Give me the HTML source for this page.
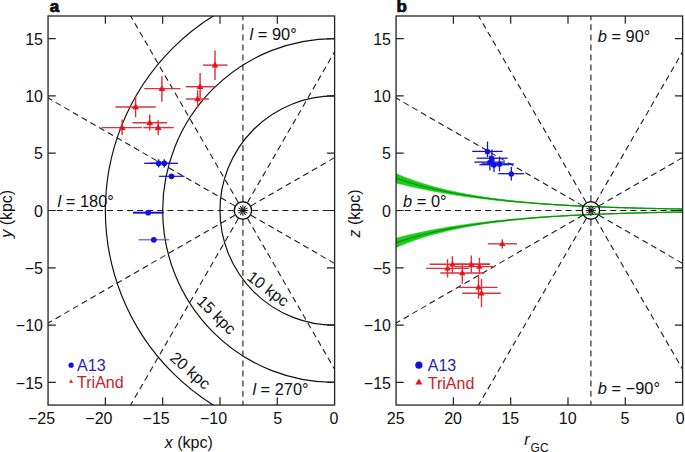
<!DOCTYPE html><html><head><meta charset="utf-8"><style>html,body{margin:0;padding:0;background:#fff;}svg{display:block;}text{font-family:"Liberation Sans",sans-serif;}</style></head><body><svg width="685" height="452" viewBox="0 0 685 452"><defs><clipPath id="ca"><rect x="48.045000000000016" y="16.0" width="286.575" height="389.05"/></clipPath><clipPath id="cb"><rect x="396.045" y="16.0" width="286.575" height="389.05"/></clipPath></defs><g clip-path="url(#ca)" fill="none"><circle cx="334.62" cy="210.52" r="114.63" stroke="#111" stroke-width="1.2"/><circle cx="334.62" cy="210.52" r="171.94" stroke="#111" stroke-width="1.2"/><circle cx="334.62" cy="210.52" r="229.26" stroke="#111" stroke-width="1.2"/><line x1="242.92" y1="210.52" x2="842.92" y2="210.52" stroke="#1a1a1a" stroke-width="1.1" stroke-dasharray="6 4.05" stroke-dashoffset="0.75"/><line x1="242.92" y1="210.52" x2="762.53" y2="-89.48" stroke="#1a1a1a" stroke-width="1.1" stroke-dasharray="6 4.05" stroke-dashoffset="0.75"/><line x1="242.92" y1="210.52" x2="542.92" y2="-309.10" stroke="#1a1a1a" stroke-width="1.1" stroke-dasharray="6 4.05" stroke-dashoffset="0.75"/><line x1="242.92" y1="210.52" x2="242.92" y2="-389.48" stroke="#1a1a1a" stroke-width="1.1" stroke-dasharray="6 4.05" stroke-dashoffset="0.75"/><line x1="242.92" y1="210.52" x2="-57.08" y2="-309.10" stroke="#1a1a1a" stroke-width="1.1" stroke-dasharray="6 4.05" stroke-dashoffset="0.75"/><line x1="242.92" y1="210.52" x2="-276.70" y2="-89.48" stroke="#1a1a1a" stroke-width="1.1" stroke-dasharray="6 4.05" stroke-dashoffset="0.75"/><line x1="242.92" y1="210.52" x2="-357.08" y2="210.52" stroke="#1a1a1a" stroke-width="1.1" stroke-dasharray="6 4.05" stroke-dashoffset="0.75"/><line x1="242.92" y1="210.52" x2="-276.70" y2="510.52" stroke="#1a1a1a" stroke-width="1.1" stroke-dasharray="6 4.05" stroke-dashoffset="0.75"/><line x1="242.92" y1="210.52" x2="-57.08" y2="730.14" stroke="#1a1a1a" stroke-width="1.1" stroke-dasharray="6 4.05" stroke-dashoffset="0.75"/><line x1="242.92" y1="210.52" x2="242.92" y2="810.52" stroke="#1a1a1a" stroke-width="1.1" stroke-dasharray="6 4.05" stroke-dashoffset="0.75"/><line x1="242.92" y1="210.52" x2="542.92" y2="730.14" stroke="#1a1a1a" stroke-width="1.1" stroke-dasharray="6 4.05" stroke-dashoffset="0.75"/><line x1="242.92" y1="210.52" x2="762.53" y2="510.52" stroke="#1a1a1a" stroke-width="1.1" stroke-dasharray="6 4.05" stroke-dashoffset="0.75"/><circle cx="242.92" cy="210.52" r="8.7" stroke="#111" stroke-width="1.4"/></g><g clip-path="url(#cb)" fill="none"><path d="M390.31,171.04 L393.18,172.35 L396.05,173.61 L398.91,174.82 L401.78,176.00 L404.64,177.13 L407.51,178.23 L410.37,179.29 L413.24,180.31 L416.11,181.30 L418.97,182.25 L421.84,183.17 L424.70,184.06 L427.57,184.92 L430.43,185.75 L433.30,186.55 L436.17,187.33 L439.03,188.08 L441.90,188.80 L444.76,189.50 L447.63,190.18 L450.49,190.83 L453.36,191.47 L456.23,192.08 L459.09,192.67 L461.96,193.24 L464.82,193.79 L467.69,194.33 L470.55,194.84 L473.42,195.34 L476.29,195.83 L479.15,196.29 L482.02,196.75 L484.88,197.18 L487.75,197.61 L490.61,198.02 L493.48,198.41 L496.35,198.80 L499.21,199.17 L502.08,199.52 L504.94,199.87 L507.81,200.21 L510.68,200.53 L513.54,200.85 L516.41,201.15 L519.27,201.44 L522.14,201.73 L525.00,202.01 L527.87,202.27 L530.74,202.53 L533.60,202.78 L536.47,203.02 L539.33,203.26 L542.20,203.48 L545.06,203.70 L547.93,203.92 L550.80,204.12 L553.66,204.32 L556.53,204.52 L559.39,204.70 L562.26,204.88 L565.12,205.06 L567.99,205.23 L570.86,205.39 L573.72,205.55 L576.59,205.71 L579.45,205.86 L582.32,206.00 L585.18,206.14 L588.05,206.28 L590.92,206.41 L593.78,206.53 L596.65,206.66 L599.51,206.78 L602.38,206.89 L605.24,207.00 L608.11,207.11 L610.98,207.22 L613.84,207.32 L616.71,207.42 L619.57,207.51 L622.44,207.61 L625.31,207.70 L628.17,207.78 L631.04,207.87 L633.90,207.95 L636.77,208.03 L639.63,208.11 L642.50,208.18 L645.37,208.25 L648.23,208.32 L651.10,208.39 L653.96,208.45 L656.83,208.52 L659.69,208.58 L662.56,208.64 L665.43,208.70 L668.29,208.75 L671.16,208.81 L674.02,208.86 L676.89,208.91 L679.75,208.96 L682.62,209.01 L685.49,209.05 L688.35,209.10 L688.35,209.14 L685.49,209.10 L682.62,209.05 L679.75,209.01 L676.89,208.96 L674.02,208.91 L671.16,208.86 L668.29,208.81 L665.43,208.76 L662.56,208.71 L659.69,208.65 L656.83,208.59 L653.96,208.53 L651.10,208.47 L648.23,208.41 L645.37,208.34 L642.50,208.28 L639.63,208.21 L636.77,208.14 L633.90,208.06 L631.04,207.99 L628.17,207.91 L625.31,207.83 L622.44,207.75 L619.57,207.66 L616.71,207.58 L613.84,207.49 L610.98,207.39 L608.11,207.30 L605.24,207.20 L602.38,207.10 L599.51,206.99 L596.65,206.89 L593.78,206.77 L590.92,206.66 L588.05,206.54 L585.18,206.42 L582.32,206.30 L579.45,206.17 L576.59,206.04 L573.72,205.90 L570.86,205.76 L567.99,205.62 L565.12,205.47 L562.26,205.31 L559.39,205.16 L556.53,204.99 L553.66,204.83 L550.80,204.65 L547.93,204.48 L545.06,204.30 L542.20,204.11 L539.33,203.91 L536.47,203.72 L533.60,203.51 L530.74,203.30 L527.87,203.08 L525.00,202.86 L522.14,202.63 L519.27,202.40 L516.41,202.15 L513.54,201.90 L510.68,201.65 L507.81,201.38 L504.94,201.11 L502.08,200.83 L499.21,200.55 L496.35,200.25 L493.48,199.95 L490.61,199.63 L487.75,199.31 L484.88,198.98 L482.02,198.64 L479.15,198.29 L476.29,197.94 L473.42,197.57 L470.55,197.19 L467.69,196.80 L464.82,196.40 L461.96,195.99 L459.09,195.57 L456.23,195.13 L453.36,194.69 L450.49,194.23 L447.63,193.76 L444.76,193.28 L441.90,192.79 L439.03,192.28 L436.17,191.76 L433.30,191.22 L430.43,190.67 L427.57,190.11 L424.70,189.53 L421.84,188.94 L418.97,188.34 L416.11,187.71 L413.24,187.08 L410.37,186.42 L407.51,185.75 L404.64,185.07 L401.78,184.36 L398.91,183.64 L396.05,182.91 L393.18,182.15 L390.31,181.38Z" fill="#1ccc1c" stroke="#1ccc1c" stroke-width="0.6"/><path d="M390.31,176.21 L393.18,177.25 L396.05,178.26 L398.91,179.23 L401.78,180.18 L404.64,181.10 L407.51,181.99 L410.37,182.86 L413.24,183.69 L416.11,184.51 L418.97,185.29 L421.84,186.06 L424.70,186.80 L427.57,187.52 L430.43,188.21 L433.30,188.89 L436.17,189.54 L439.03,190.18 L441.90,190.79 L444.76,191.39 L447.63,191.97 L450.49,192.53 L453.36,193.08 L456.23,193.61 L459.09,194.12 L461.96,194.61 L464.82,195.10 L467.69,195.56 L470.55,196.02 L473.42,196.46 L476.29,196.88 L479.15,197.29 L482.02,197.69 L484.88,198.08 L487.75,198.46 L490.61,198.83 L493.48,199.18 L496.35,199.52 L499.21,199.86 L502.08,200.18 L504.94,200.49 L507.81,200.80 L510.68,201.09 L513.54,201.38 L516.41,201.65 L519.27,201.92 L522.14,202.18 L525.00,202.43 L527.87,202.68 L530.74,202.92 L533.60,203.15 L536.47,203.37 L539.33,203.59 L542.20,203.80 L545.06,204.00 L547.93,204.20 L550.80,204.39 L553.66,204.57 L556.53,204.75 L559.39,204.93 L562.26,205.10 L565.12,205.26 L567.99,205.42 L570.86,205.58 L573.72,205.73 L576.59,205.87 L579.45,206.01 L582.32,206.15 L585.18,206.28 L588.05,206.41 L590.92,206.53 L593.78,206.65 L596.65,206.77 L599.51,206.88 L602.38,206.99 L605.24,207.10 L608.11,207.21 L610.98,207.31 L613.84,207.40 L616.71,207.50 L619.57,207.59 L622.44,207.68 L625.31,207.76 L628.17,207.85 L631.04,207.93 L633.90,208.01 L636.77,208.08 L639.63,208.16 L642.50,208.23 L645.37,208.30 L648.23,208.36 L651.10,208.43 L653.96,208.49 L656.83,208.55 L659.69,208.61 L662.56,208.67 L665.43,208.73 L668.29,208.78 L671.16,208.83 L674.02,208.89 L676.89,208.94 L679.75,208.98 L682.62,209.03 L685.49,209.07 L688.35,209.12" stroke="#0c940c" stroke-width="1.3"/><path d="M390.31,250.00 L393.18,248.69 L396.05,247.43 L398.91,246.22 L401.78,245.04 L404.64,243.91 L407.51,242.81 L410.37,241.75 L413.24,240.73 L416.11,239.74 L418.97,238.79 L421.84,237.87 L424.70,236.98 L427.57,236.12 L430.43,235.29 L433.30,234.49 L436.17,233.71 L439.03,232.96 L441.90,232.24 L444.76,231.54 L447.63,230.86 L450.49,230.21 L453.36,229.57 L456.23,228.96 L459.09,228.37 L461.96,227.80 L464.82,227.25 L467.69,226.71 L470.55,226.20 L473.42,225.70 L476.29,225.21 L479.15,224.75 L482.02,224.29 L484.88,223.86 L487.75,223.43 L490.61,223.02 L493.48,222.63 L496.35,222.24 L499.21,221.87 L502.08,221.52 L504.94,221.17 L507.81,220.83 L510.68,220.51 L513.54,220.19 L516.41,219.89 L519.27,219.60 L522.14,219.31 L525.00,219.03 L527.87,218.77 L530.74,218.51 L533.60,218.26 L536.47,218.02 L539.33,217.78 L542.20,217.56 L545.06,217.34 L547.93,217.12 L550.80,216.92 L553.66,216.72 L556.53,216.52 L559.39,216.34 L562.26,216.16 L565.12,215.98 L567.99,215.81 L570.86,215.65 L573.72,215.49 L576.59,215.33 L579.45,215.18 L582.32,215.04 L585.18,214.90 L588.05,214.76 L590.92,214.63 L593.78,214.51 L596.65,214.38 L599.51,214.26 L602.38,214.15 L605.24,214.04 L608.11,213.93 L610.98,213.82 L613.84,213.72 L616.71,213.62 L619.57,213.53 L622.44,213.43 L625.31,213.34 L628.17,213.26 L631.04,213.17 L633.90,213.09 L636.77,213.01 L639.63,212.93 L642.50,212.86 L645.37,212.79 L648.23,212.72 L651.10,212.65 L653.96,212.59 L656.83,212.52 L659.69,212.46 L662.56,212.40 L665.43,212.34 L668.29,212.29 L671.16,212.23 L674.02,212.18 L676.89,212.13 L679.75,212.08 L682.62,212.03 L685.49,211.99 L688.35,211.94 L688.35,211.90 L685.49,211.94 L682.62,211.99 L679.75,212.03 L676.89,212.08 L674.02,212.13 L671.16,212.18 L668.29,212.23 L665.43,212.28 L662.56,212.33 L659.69,212.39 L656.83,212.45 L653.96,212.51 L651.10,212.57 L648.23,212.63 L645.37,212.70 L642.50,212.76 L639.63,212.83 L636.77,212.90 L633.90,212.98 L631.04,213.05 L628.17,213.13 L625.31,213.21 L622.44,213.29 L619.57,213.38 L616.71,213.46 L613.84,213.55 L610.98,213.65 L608.11,213.74 L605.24,213.84 L602.38,213.94 L599.51,214.05 L596.65,214.15 L593.78,214.27 L590.92,214.38 L588.05,214.50 L585.18,214.62 L582.32,214.74 L579.45,214.87 L576.59,215.00 L573.72,215.14 L570.86,215.28 L567.99,215.42 L565.12,215.57 L562.26,215.73 L559.39,215.88 L556.53,216.05 L553.66,216.21 L550.80,216.39 L547.93,216.56 L545.06,216.74 L542.20,216.93 L539.33,217.13 L536.47,217.32 L533.60,217.53 L530.74,217.74 L527.87,217.96 L525.00,218.18 L522.14,218.41 L519.27,218.64 L516.41,218.89 L513.54,219.14 L510.68,219.39 L507.81,219.66 L504.94,219.93 L502.08,220.21 L499.21,220.49 L496.35,220.79 L493.48,221.09 L490.61,221.41 L487.75,221.73 L484.88,222.06 L482.02,222.40 L479.15,222.75 L476.29,223.10 L473.42,223.47 L470.55,223.85 L467.69,224.24 L464.82,224.64 L461.96,225.05 L459.09,225.47 L456.23,225.91 L453.36,226.35 L450.49,226.81 L447.63,227.28 L444.76,227.76 L441.90,228.25 L439.03,228.76 L436.17,229.28 L433.30,229.82 L430.43,230.37 L427.57,230.93 L424.70,231.51 L421.84,232.10 L418.97,232.70 L416.11,233.33 L413.24,233.96 L410.37,234.62 L407.51,235.29 L404.64,235.97 L401.78,236.68 L398.91,237.40 L396.05,238.13 L393.18,238.89 L390.31,239.66Z" fill="#1ccc1c" stroke="#1ccc1c" stroke-width="0.6"/><path d="M390.31,244.83 L393.18,243.79 L396.05,242.78 L398.91,241.81 L401.78,240.86 L404.64,239.94 L407.51,239.05 L410.37,238.18 L413.24,237.35 L416.11,236.53 L418.97,235.75 L421.84,234.98 L424.70,234.24 L427.57,233.52 L430.43,232.83 L433.30,232.15 L436.17,231.50 L439.03,230.86 L441.90,230.25 L444.76,229.65 L447.63,229.07 L450.49,228.51 L453.36,227.96 L456.23,227.43 L459.09,226.92 L461.96,226.43 L464.82,225.94 L467.69,225.48 L470.55,225.02 L473.42,224.58 L476.29,224.16 L479.15,223.75 L482.02,223.35 L484.88,222.96 L487.75,222.58 L490.61,222.21 L493.48,221.86 L496.35,221.52 L499.21,221.18 L502.08,220.86 L504.94,220.55 L507.81,220.24 L510.68,219.95 L513.54,219.66 L516.41,219.39 L519.27,219.12 L522.14,218.86 L525.00,218.61 L527.87,218.36 L530.74,218.12 L533.60,217.89 L536.47,217.67 L539.33,217.45 L542.20,217.24 L545.06,217.04 L547.93,216.84 L550.80,216.65 L553.66,216.47 L556.53,216.29 L559.39,216.11 L562.26,215.94 L565.12,215.78 L567.99,215.62 L570.86,215.46 L573.72,215.31 L576.59,215.17 L579.45,215.03 L582.32,214.89 L585.18,214.76 L588.05,214.63 L590.92,214.51 L593.78,214.39 L596.65,214.27 L599.51,214.16 L602.38,214.05 L605.24,213.94 L608.11,213.83 L610.98,213.73 L613.84,213.64 L616.71,213.54 L619.57,213.45 L622.44,213.36 L625.31,213.28 L628.17,213.19 L631.04,213.11 L633.90,213.03 L636.77,212.96 L639.63,212.88 L642.50,212.81 L645.37,212.74 L648.23,212.68 L651.10,212.61 L653.96,212.55 L656.83,212.49 L659.69,212.43 L662.56,212.37 L665.43,212.31 L668.29,212.26 L671.16,212.21 L674.02,212.15 L676.89,212.10 L679.75,212.06 L682.62,212.01 L685.49,211.97 L688.35,211.92" stroke="#0c940c" stroke-width="1.3"/><line x1="590.92" y1="210.52" x2="1190.92" y2="210.52" stroke="#1a1a1a" stroke-width="1.1" stroke-dasharray="6 4.05" stroke-dashoffset="0.75"/><line x1="590.92" y1="210.52" x2="1110.53" y2="-89.48" stroke="#1a1a1a" stroke-width="1.1" stroke-dasharray="6 4.05" stroke-dashoffset="0.75"/><line x1="590.92" y1="210.52" x2="890.92" y2="-309.10" stroke="#1a1a1a" stroke-width="1.1" stroke-dasharray="6 4.05" stroke-dashoffset="0.75"/><line x1="590.92" y1="210.52" x2="590.92" y2="-389.48" stroke="#1a1a1a" stroke-width="1.1" stroke-dasharray="6 4.05" stroke-dashoffset="0.75"/><line x1="590.92" y1="210.52" x2="290.92" y2="-309.10" stroke="#1a1a1a" stroke-width="1.1" stroke-dasharray="6 4.05" stroke-dashoffset="0.75"/><line x1="590.92" y1="210.52" x2="71.30" y2="-89.48" stroke="#1a1a1a" stroke-width="1.1" stroke-dasharray="6 4.05" stroke-dashoffset="0.75"/><line x1="590.92" y1="210.52" x2="-9.08" y2="210.52" stroke="#1a1a1a" stroke-width="1.1" stroke-dasharray="6 4.05" stroke-dashoffset="0.75"/><line x1="590.92" y1="210.52" x2="71.30" y2="510.52" stroke="#1a1a1a" stroke-width="1.1" stroke-dasharray="6 4.05" stroke-dashoffset="0.75"/><line x1="590.92" y1="210.52" x2="290.92" y2="730.14" stroke="#1a1a1a" stroke-width="1.1" stroke-dasharray="6 4.05" stroke-dashoffset="0.75"/><line x1="590.92" y1="210.52" x2="590.92" y2="810.52" stroke="#1a1a1a" stroke-width="1.1" stroke-dasharray="6 4.05" stroke-dashoffset="0.75"/><line x1="590.92" y1="210.52" x2="890.92" y2="730.14" stroke="#1a1a1a" stroke-width="1.1" stroke-dasharray="6 4.05" stroke-dashoffset="0.75"/><line x1="590.92" y1="210.52" x2="1110.53" y2="510.52" stroke="#1a1a1a" stroke-width="1.1" stroke-dasharray="6 4.05" stroke-dashoffset="0.75"/><circle cx="590.92" cy="210.52" r="8.7" stroke="#111" stroke-width="1.4"/></g><line x1="203.00" y1="65.10" x2="227.50" y2="65.10" stroke="#e0303c" stroke-width="1.45"/><line x1="215.00" y1="50.50" x2="215.00" y2="80.00" stroke="#e0303c" stroke-width="1.45"/><line x1="185.80" y1="86.70" x2="215.30" y2="86.70" stroke="#e0303c" stroke-width="1.45"/><line x1="200.10" y1="73.10" x2="200.10" y2="99.00" stroke="#e0303c" stroke-width="1.45"/><line x1="186.00" y1="99.00" x2="208.80" y2="99.00" stroke="#e0303c" stroke-width="1.45"/><line x1="197.60" y1="90.30" x2="197.60" y2="108.30" stroke="#e0303c" stroke-width="1.45"/><line x1="144.30" y1="88.60" x2="180.50" y2="88.60" stroke="#e0303c" stroke-width="1.45"/><line x1="161.90" y1="76.20" x2="161.90" y2="101.80" stroke="#e0303c" stroke-width="1.45"/><line x1="115.40" y1="106.90" x2="155.70" y2="106.90" stroke="#e0303c" stroke-width="1.45"/><line x1="135.60" y1="96.60" x2="135.60" y2="117.20" stroke="#e0303c" stroke-width="1.45"/><line x1="132.60" y1="122.70" x2="167.00" y2="122.70" stroke="#e0303c" stroke-width="1.45"/><line x1="149.70" y1="114.50" x2="149.70" y2="130.40" stroke="#e0303c" stroke-width="1.45"/><line x1="143.30" y1="127.60" x2="173.70" y2="127.60" stroke="#e0303c" stroke-width="1.45"/><line x1="158.20" y1="120.30" x2="158.20" y2="135.10" stroke="#e0303c" stroke-width="1.45"/><line x1="101.50" y1="127.60" x2="142.00" y2="127.60" stroke="#e0303c" stroke-width="1.45"/><line x1="122.10" y1="119.60" x2="122.10" y2="135.10" stroke="#e0303c" stroke-width="1.45"/><path d="M211.60,67.46 L218.40,67.46 L215.00,61.55Z" fill="#f0101a"/><path d="M196.70,89.06 L203.50,89.06 L200.10,83.15Z" fill="#f0101a"/><path d="M194.20,101.36 L201.00,101.36 L197.60,95.45Z" fill="#f0101a"/><path d="M158.50,90.96 L165.30,90.96 L161.90,85.05Z" fill="#f0101a"/><path d="M132.20,109.26 L139.00,109.26 L135.60,103.35Z" fill="#f0101a"/><path d="M146.30,125.06 L153.10,125.06 L149.70,119.15Z" fill="#f0101a"/><path d="M154.80,129.96 L161.60,129.96 L158.20,124.05Z" fill="#f0101a"/><path d="M118.70,129.96 L125.50,129.96 L122.10,124.05Z" fill="#f0101a"/><line x1="144.10" y1="163.30" x2="170.00" y2="163.30" stroke="#1010e0" stroke-width="1.3"/><line x1="158.60" y1="159.30" x2="158.60" y2="167.40" stroke="#1010e0" stroke-width="1.3"/><circle cx="158.60" cy="163.30" r="2.85" fill="#1010e0"/><line x1="150.00" y1="163.30" x2="178.00" y2="163.30" stroke="#1010e0" stroke-width="1.3"/><line x1="164.30" y1="159.30" x2="164.30" y2="167.40" stroke="#1010e0" stroke-width="1.3"/><circle cx="164.30" cy="163.30" r="2.85" fill="#1010e0"/><line x1="159.00" y1="176.30" x2="184.50" y2="176.30" stroke="#1010e0" stroke-width="1.2"/><line x1="171.50" y1="173.80" x2="171.50" y2="178.80" stroke="#1010e0" stroke-width="1.2"/><circle cx="171.50" cy="176.30" r="2.85" fill="#1010e0"/><line x1="133.00" y1="212.70" x2="163.70" y2="212.70" stroke="#1010e0" stroke-width="2.0"/><line x1="148.20" y1="210.50" x2="148.20" y2="214.90" stroke="#1010e0" stroke-width="2.0"/><circle cx="148.20" cy="212.70" r="2.85" fill="#1010e0"/><line x1="138.50" y1="239.80" x2="169.00" y2="239.80" stroke="#4848e0" stroke-width="1.1"/><circle cx="153.80" cy="239.80" r="2.85" fill="#1010e0"/><line x1="487.80" y1="243.80" x2="517.00" y2="243.80" stroke="#e0303c" stroke-width="1.4"/><line x1="502.30" y1="239.20" x2="502.30" y2="248.60" stroke="#e0303c" stroke-width="1.4"/><line x1="429.60" y1="264.30" x2="489.60" y2="264.30" stroke="#e0303c" stroke-width="1.4"/><line x1="452.40" y1="256.10" x2="452.40" y2="273.00" stroke="#e0303c" stroke-width="1.4"/><line x1="426.00" y1="268.40" x2="469.20" y2="268.40" stroke="#e0303c" stroke-width="1.4"/><line x1="447.50" y1="259.20" x2="447.50" y2="277.60" stroke="#e0303c" stroke-width="1.4"/><line x1="452.00" y1="264.30" x2="490.00" y2="264.30" stroke="#e0303c" stroke-width="1.4"/><line x1="471.30" y1="255.60" x2="471.30" y2="272.50" stroke="#e0303c" stroke-width="1.4"/><line x1="455.00" y1="266.60" x2="495.00" y2="266.60" stroke="#e0303c" stroke-width="1.4"/><line x1="479.40" y1="257.70" x2="479.40" y2="274.50" stroke="#e0303c" stroke-width="1.4"/><line x1="440.30" y1="273.00" x2="484.30" y2="273.00" stroke="#e0303c" stroke-width="1.4"/><line x1="462.30" y1="263.30" x2="462.30" y2="283.80" stroke="#e0303c" stroke-width="1.4"/><line x1="458.60" y1="287.40" x2="497.60" y2="287.40" stroke="#e0303c" stroke-width="1.4"/><line x1="478.50" y1="275.00" x2="478.50" y2="298.80" stroke="#e0303c" stroke-width="1.4"/><line x1="462.20" y1="293.30" x2="500.80" y2="293.30" stroke="#e0303c" stroke-width="1.4"/><line x1="481.50" y1="279.00" x2="481.50" y2="307.20" stroke="#e0303c" stroke-width="1.4"/><path d="M499.10,246.01 L505.50,246.01 L502.30,240.44Z" fill="#f0101a"/><path d="M449.20,266.51 L455.60,266.51 L452.40,260.94Z" fill="#f0101a"/><path d="M444.30,270.61 L450.70,270.61 L447.50,265.04Z" fill="#f0101a"/><path d="M468.10,266.51 L474.50,266.51 L471.30,260.94Z" fill="#f0101a"/><path d="M476.20,268.81 L482.60,268.81 L479.40,263.24Z" fill="#f0101a"/><path d="M459.10,275.21 L465.50,275.21 L462.30,269.64Z" fill="#f0101a"/><path d="M475.30,289.61 L481.70,289.61 L478.50,284.04Z" fill="#f0101a"/><path d="M478.30,295.51 L484.70,295.51 L481.50,289.94Z" fill="#f0101a"/><line x1="472.20" y1="151.40" x2="502.60" y2="151.40" stroke="#1010e0" stroke-width="1.3"/><line x1="487.50" y1="141.60" x2="487.50" y2="157.10" stroke="#1010e0" stroke-width="1.3"/><circle cx="487.50" cy="151.70" r="2.75" fill="#1010e0"/><line x1="476.60" y1="158.20" x2="507.60" y2="158.20" stroke="#1010e0" stroke-width="1.3"/><line x1="491.90" y1="149.40" x2="491.90" y2="167.10" stroke="#1010e0" stroke-width="1.3"/><circle cx="491.90" cy="158.50" r="2.75" fill="#1010e0"/><line x1="474.40" y1="162.10" x2="504.90" y2="162.10" stroke="#1010e0" stroke-width="1.3"/><line x1="489.90" y1="155.50" x2="489.90" y2="170.40" stroke="#1010e0" stroke-width="1.3"/><circle cx="489.90" cy="162.40" r="2.75" fill="#1010e0"/><line x1="479.40" y1="164.70" x2="509.30" y2="164.70" stroke="#1010e0" stroke-width="1.3"/><line x1="494.00" y1="159.40" x2="494.00" y2="172.10" stroke="#1010e0" stroke-width="1.3"/><circle cx="494.00" cy="165.00" r="2.75" fill="#1010e0"/><line x1="481.60" y1="164.00" x2="513.70" y2="164.00" stroke="#1010e0" stroke-width="1.3"/><line x1="499.50" y1="156.60" x2="499.50" y2="171.50" stroke="#1010e0" stroke-width="1.3"/><circle cx="499.50" cy="164.30" r="2.75" fill="#1010e0"/><line x1="498.20" y1="173.70" x2="524.20" y2="173.70" stroke="#1010e0" stroke-width="1.3"/><line x1="511.30" y1="167.10" x2="511.30" y2="180.40" stroke="#1010e0" stroke-width="1.3"/><circle cx="511.30" cy="174.00" r="2.75" fill="#1010e0"/><rect x="48.05" y="16.00" width="286.57" height="389.05" fill="none" stroke="#222" stroke-width="1.3"/><rect x="396.05" y="16.00" width="286.57" height="389.05" fill="none" stroke="#222" stroke-width="1.3"/><path d="M105.36,405.05v-7.7M105.36,16.00v7.7M162.68,405.05v-7.7M162.68,16.00v7.7M219.99,405.05v-7.7M219.99,16.00v7.7M277.31,405.05v-7.7M277.31,16.00v7.7M453.36,405.05v-7.7M453.36,16.00v7.7M510.68,405.05v-7.7M510.68,16.00v7.7M567.99,405.05v-7.7M567.99,16.00v7.7M625.31,405.05v-7.7M625.31,16.00v7.7M48.05,382.47h7.7M334.62,382.47h-7.7M396.05,382.47h7.7M682.62,382.47h-7.7M48.05,325.15h7.7M334.62,325.15h-7.7M396.05,325.15h7.7M682.62,325.15h-7.7M48.05,267.84h7.7M334.62,267.84h-7.7M396.05,267.84h7.7M682.62,267.84h-7.7M48.05,210.52h7.7M334.62,210.52h-7.7M396.05,210.52h7.7M682.62,210.52h-7.7M48.05,153.21h7.7M334.62,153.21h-7.7M396.05,153.21h7.7M682.62,153.21h-7.7M48.05,95.89h7.7M334.62,95.89h-7.7M396.05,95.89h7.7M682.62,95.89h-7.7M48.05,38.58h7.7M334.62,38.58h-7.7M396.05,38.58h7.7M682.62,38.58h-7.7" stroke="#222" stroke-width="1.2" fill="none"/><g font-size="16" fill="#111"><text x="43" y="44.68" text-anchor="end">15</text><text x="391" y="44.68" text-anchor="end">15</text><text x="43" y="101.99" text-anchor="end">10</text><text x="391" y="101.99" text-anchor="end">10</text><text x="43" y="159.31" text-anchor="end">5</text><text x="391" y="159.31" text-anchor="end">5</text><text x="43" y="216.62" text-anchor="end">0</text><text x="391" y="216.62" text-anchor="end">0</text><text x="43" y="273.94" text-anchor="end">−5</text><text x="391" y="273.94" text-anchor="end">−5</text><text x="43" y="331.25" text-anchor="end">−10</text><text x="391" y="331.25" text-anchor="end">−10</text><text x="43" y="388.57" text-anchor="end">−15</text><text x="391" y="388.57" text-anchor="end">−15</text><text x="41.55" y="423.9" text-anchor="middle">−25</text><text x="98.86" y="423.9" text-anchor="middle">−20</text><text x="156.18" y="423.9" text-anchor="middle">−15</text><text x="213.49" y="423.9" text-anchor="middle">−10</text><text x="277.81" y="423.9" text-anchor="middle">5</text><text x="333.92" y="423.9" text-anchor="middle">0</text><text x="395.75" y="423.9" text-anchor="middle">25</text><text x="453.06" y="423.9" text-anchor="middle">20</text><text x="510.38" y="423.9" text-anchor="middle">15</text><text x="567.69" y="423.9" text-anchor="middle">10</text><text x="625.01" y="423.9" text-anchor="middle">5</text><text x="680.12" y="423.9" text-anchor="middle">0</text></g><g fill="#111"><text x="49.8" y="11.8" font-size="17" font-weight="bold" stroke="#000" stroke-width="0.7">a</text><text x="396.6" y="11.8" font-size="17" font-weight="bold" stroke="#000" stroke-width="0.7">b</text><text transform="translate(11.9,213.8) rotate(-90)" font-size="16" text-anchor="middle"><tspan font-style="italic">y</tspan> (kpc)</text><text transform="translate(360.2,213.4) rotate(-90)" font-size="16" text-anchor="middle"><tspan font-style="italic">z</tspan> (kpc)</text><text x="164.8" y="447.8" font-size="16"><tspan font-style="italic">x</tspan> (kpc)</text><text x="524.3" y="444.9" font-size="16" font-style="italic">r</text><text x="530.6" y="451.8" font-size="12">GC</text><text x="249.60" y="39.8" font-size="16.4"><tspan font-style="italic">l</tspan> = 90°</text><text x="57.60" y="206.6" font-size="16.4"><tspan font-style="italic">l</tspan> = 180°</text><text x="252.40" y="394.9" font-size="16.4"><tspan font-style="italic">l</tspan> = 270°</text><text x="597.80" y="41.8" font-size="16.4"><tspan font-style="italic">b</tspan> = 90°</text><text x="403.10" y="206.8" font-size="16.4"><tspan font-style="italic">b</tspan> = 0°</text><text x="597.80" y="393.5" font-size="16.4"><tspan font-style="italic">b</tspan> = −90°</text></g><g fill="#111" font-size="16"><text transform="translate(246.0,279.0) rotate(37)">10 kpc</text><text transform="translate(195.8,302.3) rotate(44.5)">15 kpc</text><text transform="translate(168.9,359.2) rotate(41)">20 kpc</text></g><circle cx="71.1" cy="365.2" r="2.6" fill="#1010e0"/><text x="77.1" y="370.6" font-size="16" fill="#2424c4">A13</text><path d="M69.10,382.77 L73.10,382.77 L71.10,379.29Z" fill="#f0101a"/><text x="77.1" y="387.9" font-size="16" fill="#cc2026">TriAnd</text><circle cx="418.9" cy="365.2" r="3.6" fill="#1010e0"/><text x="427.8" y="371.4" font-size="16" fill="#2424c4">A13</text><path d="M415.40,384.54 L422.40,384.54 L418.90,378.45Z" fill="#f0101a"/><text x="427.8" y="388.5" font-size="16" fill="#cc2026">TriAnd</text></svg></body></html>
